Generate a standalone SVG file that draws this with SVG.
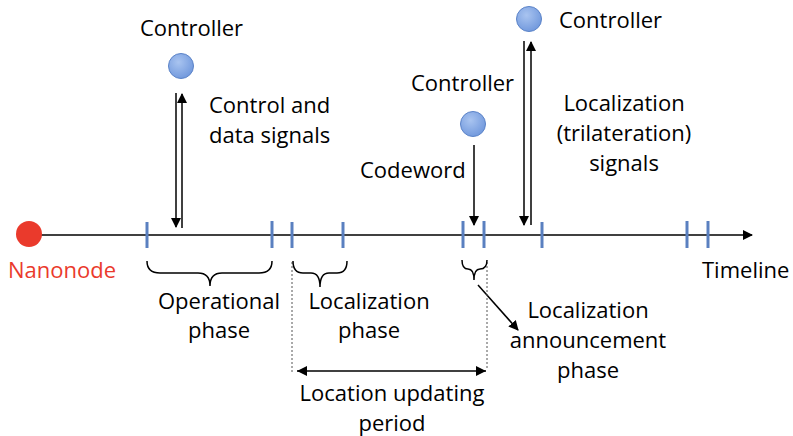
<svg xmlns="http://www.w3.org/2000/svg" width="793" height="436" viewBox="0 0 793 436">
<defs>
<marker id="ah" markerWidth="10" markerHeight="10" refX="9" refY="5" orient="auto" markerUnits="userSpaceOnUse"><path d="M0,0 L10,5 L0,10 Z" fill="#000"/></marker>
<marker id="ahs" markerWidth="10" markerHeight="10" refX="10" refY="5" orient="auto-start-reverse" markerUnits="userSpaceOnUse"><path d="M0,0 L10,5 L0,10 Z" fill="#000"/></marker>
<radialGradient id="cg" cx="40%" cy="35%" r="70%"><stop offset="0" stop-color="#a9c4f0"/><stop offset="1" stop-color="#6f97dc"/></radialGradient>
</defs>
<style>
text{font-family:"Open Sans","Liberation Sans",sans-serif;font-size:22px;fill:#000}
.c{text-anchor:middle}
.tick{stroke:#5a80c0;stroke-width:3}
.ln{stroke:#000;stroke-width:1.5;fill:none}
.br{stroke:#000;stroke-width:1.5;fill:none}
.dot{stroke:#555;stroke-width:1;stroke-dasharray:2,2}
.ctl{fill:url(#cg);stroke:#5b83c8;stroke-width:1}
</style>
<g id="timeline">
<line class="ln" x1="30" y1="235" x2="752" y2="235" marker-end="url(#ah)"/>
<text x="702" y="278">Timeline</text>
</g>
<g id="ticks">
<line class="tick" x1="147" y1="222" x2="147" y2="248"/>
<line class="tick" x1="272" y1="221" x2="272" y2="248"/>
<line class="tick" x1="292" y1="222" x2="292" y2="248"/>
<line class="tick" x1="343" y1="222" x2="343" y2="248"/>
<line class="tick" x1="463" y1="221" x2="463" y2="248"/>
<line class="tick" x1="484" y1="221" x2="484" y2="248"/>
<line class="tick" x1="542" y1="222" x2="542" y2="248"/>
<line class="tick" x1="687" y1="221" x2="687" y2="248"/>
<line class="tick" x1="708" y1="221" x2="708" y2="248"/>
</g>
<g id="nanonode">
<circle cx="29" cy="234" r="13" fill="#ea3a2c"/>
<text x="8" y="278" fill="#ea3a2c" style="fill:#ea3a2c">Nanonode</text>
</g>
<g id="controller1">
<circle class="ctl" cx="181" cy="66" r="12.5"/>
<text x="140" y="36">Controller</text>
</g>
<g id="controller2">
<circle class="ctl" cx="473" cy="124" r="12.5"/>
<text x="411" y="91">Controller</text>
</g>
<g id="controller3">
<circle class="ctl" cx="529" cy="19" r="12.5"/>
<text x="559" y="28">Controller</text>
</g>
<g id="connectors">
<line class="ln" x1="176" y1="93" x2="176" y2="227" marker-end="url(#ah)"/>
<line class="ln" x1="182" y1="228" x2="182" y2="94" marker-end="url(#ah)"/>
<line class="ln" x1="474" y1="145" x2="474" y2="225" marker-end="url(#ah)"/>
<line class="ln" x1="524" y1="41" x2="524" y2="225" marker-end="url(#ah)"/>
<line class="ln" x1="531" y1="225" x2="531" y2="42" marker-end="url(#ah)"/>
<line class="ln" x1="478" y1="285" x2="518" y2="330" marker-end="url(#ah)"/>
<line class="ln" x1="297" y1="371" x2="486" y2="371" marker-start="url(#ahs)" marker-end="url(#ahs)"/>
<line class="dot" x1="292" y1="262" x2="292" y2="372"/>
<line class="dot" x1="487" y1="262" x2="487" y2="370"/>
</g>
<g id="braces">
<path class="br" d="M147,261 Q147,273 160,273 L198,273 Q210,273 210,286 Q210,273 222,273 L259,273 Q272,273 272,261"/>
<path class="br" d="M293,261 Q293,273 303,273 L311,273 Q320,273 320,287 Q320,273 329,273 L337,273 Q347,273 347,261"/>
<path class="br" d="M462,260 Q462,269 468,269 Q474,269 474,280 Q474,269 480,269 Q487,269 487,260"/>
</g>
<g id="labels">
<text x="209" y="113">Control and</text>
<text x="209" y="143">data signals</text>
<text x="360" y="178">Codeword</text>
<text class="c" x="624" y="111">Localization</text>
<text class="c" x="624" y="141">(trilateration)</text>
<text class="c" x="624" y="171">signals</text>
<text class="c" x="219" y="309">Operational</text>
<text class="c" x="219" y="338">phase</text>
<text class="c" x="369" y="309">Localization</text>
<text class="c" x="369" y="338">phase</text>
<text class="c" x="392" y="401">Location updating</text>
<text class="c" x="392" y="431">period</text>
<text class="c" x="588" y="318">Localization</text>
<text class="c" x="588" y="348">announcement</text>
<text class="c" x="588" y="378">phase</text>
</g>
</svg>
